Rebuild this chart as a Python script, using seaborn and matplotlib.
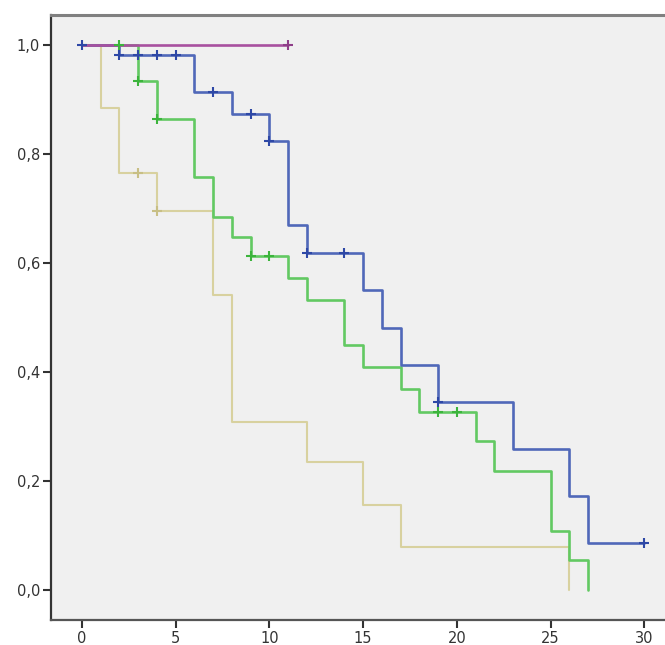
import matplotlib
matplotlib.use("Agg")
import matplotlib.pyplot as plt
import pandas as pd
import seaborn as sns

# Kaplan-Meier step curves (time, survival after that time)
blue_t = [0, 2, 6, 8, 10, 11, 12, 15, 16, 17, 19, 23, 26, 27, 30]
blue_s = [1.0, 0.982, 0.914, 0.873, 0.824, 0.67, 0.618, 0.55, 0.481, 0.413, 0.345, 0.259, 0.172, 0.087, 0.087]
blue_cens_t = [0, 2, 3, 4, 5, 7, 9, 10, 12, 14, 19, 30]
blue_cens_s = [1.0, 0.982, 0.982, 0.982, 0.982, 0.914, 0.873, 0.824, 0.618, 0.618, 0.345, 0.087]

green_t = [0, 3, 4, 6, 7, 8, 9, 11, 12, 14, 15, 17, 18, 21, 22, 25, 26, 27]
green_s = [1.0, 0.934, 0.864, 0.758, 0.685, 0.648, 0.613, 0.572, 0.532, 0.45, 0.41, 0.369, 0.327, 0.274, 0.219, 0.109, 0.055, 0.0]
green_cens_t = [2, 3, 4, 9, 10, 19, 20]
green_cens_s = [1.0, 0.934, 0.864, 0.613, 0.613, 0.327, 0.327]

tan_t = [0, 1, 2, 4, 7, 8, 12, 15, 17, 26]
tan_s = [1.0, 0.884, 0.766, 0.695, 0.541, 0.309, 0.235, 0.156, 0.079, 0.0]
tan_cens_t = [3, 4]
tan_cens_s = [0.766, 0.695]

purple_t = [0, 11]
purple_s = [1.0, 1.0]
purple_cens_t = [11]
purple_cens_s = [1.0]

y_ticks = [0.0, 0.2, 0.4, 0.6, 0.8, 1.0]
x_ticks = [0, 5, 10, 15, 20, 25, 30]

# drawing order: tan, green, blue, purple (purple sits on top at 1,0)
groups = ["tan", "green", "blue", "purple"]
line_colors = {"tan": "#D8D19F", "green": "#62C962", "blue": "#5068B9", "purple": "#A8509F"}
mark_colors = {"tan": "#C8BF85", "green": "#3CB43C", "blue": "#2E48A6", "purple": "#8E3D88"}
widths = {"tan": 1.5, "green": 1.9, "blue": 1.9, "purple": 1.9}

curves = pd.concat([
    pd.DataFrame({"t": tan_t, "s": tan_s, "g": "tan"}),
    pd.DataFrame({"t": green_t, "s": green_s, "g": "green"}),
    pd.DataFrame({"t": blue_t, "s": blue_s, "g": "blue"}),
    pd.DataFrame({"t": purple_t, "s": purple_s, "g": "purple"}),
], ignore_index=True)

censors = pd.concat([
    pd.DataFrame({"t": tan_cens_t, "s": tan_cens_s, "g": "tan"}),
    pd.DataFrame({"t": green_cens_t, "s": green_cens_s, "g": "green"}),
    pd.DataFrame({"t": purple_cens_t, "s": purple_cens_s, "g": "purple"}),
    pd.DataFrame({"t": blue_cens_t, "s": blue_cens_s, "g": "blue"}),
], ignore_index=True)

sns.set_style("white")
plt.rcParams["font.family"] = ["DejaVu Sans"]

fig = plt.figure(figsize=(6.65, 6.45), dpi=100)
ax = fig.add_axes([51 / 665, 25 / 645, 614 / 665, 605 / 645])
ax.set_facecolor("#F0F0F0")

for g in groups:
    sub = curves[curves["g"] == g]
    sns.lineplot(data=sub, x="t", y="s", color=line_colors[g], lw=widths[g],
                 drawstyle="steps-post", estimator=None, sort=False, ax=ax, zorder=2)

for g in ["tan", "green", "purple", "blue"]:
    sub = censors[censors["g"] == g]
    sns.scatterplot(data=sub, x="t", y="s", marker="+", s=55, linewidth=1.5,
                    color=mark_colors[g], ax=ax, zorder=3)

ax.set_xlim(-1.65, 31.1)
ax.set_ylim(-0.055, 1.055)
ax.set_xticks(x_ticks)
ax.set_xticklabels([str(v) for v in x_ticks])
ax.set_yticks(y_ticks)
ax.set_yticklabels([f"{v:.1f}".replace(".", ",") for v in y_ticks])
ax.set_xlabel("")
ax.set_ylabel("")
ax.tick_params(axis="both", direction="out", length=6, width=1.5, color="#333333",
               labelsize=10.5, labelcolor="#333333", pad=2, left=True, bottom=True)
for side in ["left", "bottom"]:
    ax.spines[side].set_color("#333333")
    ax.spines[side].set_linewidth(1.6)
ax.spines["bottom"].set_color("#555555")
ax.spines["top"].set_color("#808080")
ax.spines["top"].set_linewidth(2.2)
ax.spines["right"].set_visible(False)
ax.grid(False)

fig.savefig("out.png", dpi=100)
